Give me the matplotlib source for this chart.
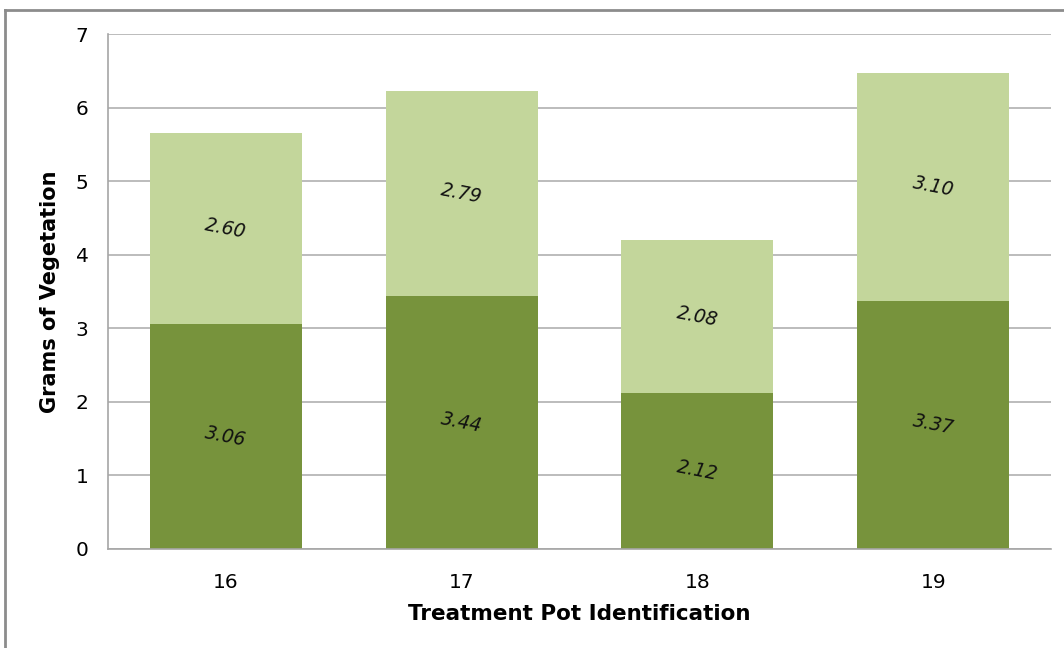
import numpy as np
import matplotlib.pyplot as plt
from matplotlib.lines import Line2D

# Pesos por maceta
macetas = ['16', '17', '18', '19']
inferior = [3.06, 3.44, 2.12, 3.37]
superior = [2.60, 2.79, 2.08, 3.10]

oscuro = '#77933C'
claro = '#C3D69B'

fig = plt.figure(figsize=(10.64, 6.48), dpi=100)
ax = fig.add_axes([0.1015, 0.1528, 0.8863, 0.7947])

x = np.arange(len(macetas))
b1 = ax.bar(x, inferior, 0.645, color=oscuro, zorder=2)
b2 = ax.bar(x, superior, 0.645, bottom=inferior, color=claro, zorder=2)

for barras in (b1, b2):
	for r in barras:
		cx = r.get_x() + r.get_width() / 2
		cy = r.get_y() + r.get_height() / 2
		ax.text(cx, cy, '%.2f' % r.get_height(), ha='center', va='center',
			rotation=-11, style='italic', fontsize=13.5, color='#111111', zorder=3)

ax.set_xlim(-0.5, len(macetas) - 0.5)
ax.set_ylim(0, 7)
ax.set_yticks(range(0, 8))
ax.set_xticks(x)
ax.set_xticklabels(macetas)
ax.tick_params(axis='both', length=0, labelsize=14.5, colors='black')
ax.tick_params(axis='y', pad=14)
ax.tick_params(axis='x', pad=17)
ax.yaxis.grid(True, color='#B0B0B0', linewidth=1.2, zorder=0)
ax.set_axisbelow(True)
for s in ['top', 'right']:
	ax.spines[s].set_visible(False)
for s in ['left', 'bottom']:
	ax.spines[s].set_color('#A6A6A6')
	ax.spines[s].set_linewidth(1.2)

ax.set_xlabel('Treatment Pot Identification', fontsize=15.5, fontweight='bold', labelpad=9)
ax.set_ylabel('Grams of Vegetation', fontsize=15, fontweight='bold', labelpad=11)

# Borde del grafico
fig.add_artist(Line2D([5/1064, 1], [1 - 10/648, 1 - 10/648], transform=fig.transFigure, color='#8C8C8C', linewidth=2))
fig.add_artist(Line2D([5/1064, 5/1064], [0, 1 - 10/648], transform=fig.transFigure, color='#8C8C8C', linewidth=2))

plt.savefig('out.png', dpi=100)
